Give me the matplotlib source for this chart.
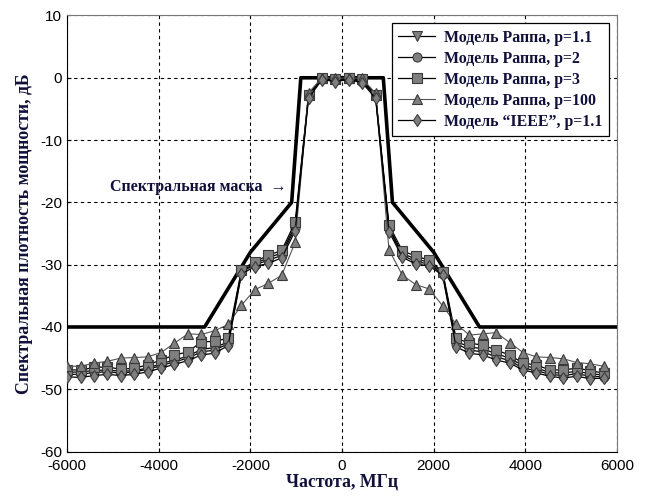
import matplotlib
matplotlib.use("Agg")
import matplotlib.pyplot as plt

# сетка частот, МГц (41 отсчёт)
freq = [-6000, -5707, -5415, -5122, -4829, -4537, -4244, -3951, -3659, -3366,
        -3073, -2780, -2488, -2195, -1902, -1610, -1317, -1024, -732, -439,
        -146, 146, 439, 732, 1024, 1317, 1610, 1902, 2195, 2488,
        2780, 3073, 3366, 3659, 3951, 4244, 4537, 4829, 5122, 5415, 5707]

# спектры на выходе усилителя, дБ
rapp_11 = [-47.3, -47.2, -47.0, -46.9, -47.1, -47.0, -46.6, -45.9, -45.3, -44.7,
           -43.6, -43.3, -42.4, -31.0, -29.8, -28.9, -28.1, -23.7,
           -2.9, -0.2, -0.4, -0.1, -0.4, -2.9,
           -24.0, -28.2, -29.1, -29.6, -31.3, -42.3, -43.2, -43.5, -44.3, -45.0,
           -46.2, -46.6, -47.3, -47.4, -47.1, -47.5, -47.7]
rapp_2 = [-47.6, -47.6, -47.3, -47.2, -47.4, -47.2, -46.8, -46.2, -45.6, -45.0,
          -44.0, -43.7, -42.7, -31.2, -30.0, -29.3, -28.5, -24.1,
          -3.0, -0.1, -0.3, -0.2, -0.6, -3.0,
          -24.3, -28.5, -29.5, -29.9, -31.5, -42.7, -43.7, -44.0, -44.8, -45.4,
          -46.6, -47.0, -47.6, -47.8, -47.5, -47.9, -48.0]
rapp_3 = [-46.9, -46.9, -46.5, -46.4, -46.8, -46.6, -46.1, -45.3, -44.5, -44.0,
          -42.4, -42.3, -41.8, -30.8, -29.5, -28.5, -27.7, -23.2,
          -2.7, 0.0, -0.2, 0.0, -0.2, -2.7,
          -23.6, -27.8, -28.6, -29.3, -31.1, -41.8, -42.6, -42.9, -43.7, -44.5,
          -45.8, -46.1, -46.9, -46.9, -46.6, -47.0, -47.4]
rapp_100 = [-46.3, -46.3, -45.8, -45.5, -45.0, -44.9, -44.8, -44.1, -42.6, -41.1,
            -41.2, -40.6, -39.6, -36.5, -34.0, -33.0, -31.7, -26.4,
            -2.4, 0.0, -0.1, 0.0, -0.1, -2.5,
            -27.6, -31.7, -33.2, -33.9, -36.6, -39.5, -41.3, -41.1, -40.9, -42.5,
            -44.1, -44.8, -44.9, -45.1, -45.7, -45.9, -46.3]
ieee_11 = [-48.0, -48.1, -47.8, -47.6, -47.8, -47.6, -47.2, -46.6, -46.0, -45.4,
           -44.5, -44.2, -43.0, -31.5, -30.3, -29.8, -28.9, -24.6,
           -3.3, -0.3, -0.6, -0.3, -0.8, -3.3,
           -24.7, -28.8, -29.9, -30.2, -31.7, -43.2, -44.2, -44.5, -45.3, -45.8,
           -46.9, -47.4, -47.9, -48.2, -47.9, -48.3, -48.2]

# спектральная маска
mask_f = [-6000, -3000, -2000, -1100, -900, 900, 1100, 2000, 3000, 6000]
mask_db = [-40, -40, -28, -20, 0, 0, -20, -28, -40, -40]

serif = ["Liberation Serif", "DejaVu Serif"]
plt.rcParams["font.family"] = ["Liberation Sans", "DejaVu Sans"]
plt.rcParams["axes.unicode_minus"] = False

fig = plt.figure(figsize=(6.46, 4.99), dpi=100)
ax = fig.add_axes([0.104, 0.095, 0.851, 0.874])

ax.plot(mask_f, mask_db, color="black", lw=2.6, zorder=2)

mk = dict(markerfacecolor="#7f7f7f", markeredgecolor="#3a3a3a",
          markeredgewidth=0.8, markersize=6.5, zorder=3)
ax.plot(freq, rapp_11, "-", color="black", lw=0.9, marker="v",
        label="Модель Раппа, p=1.1", **mk)
ax.plot(freq, rapp_2, "-", color="black", lw=0.9, marker="o",
        label="Модель Раппа, p=2", **mk)
ax.plot(freq, rapp_3, "-", color="black", lw=0.9, marker="s",
        label="Модель Раппа, p=3", **mk)
ax.plot(freq, rapp_100, "-", color="#555555", lw=0.8, marker="^",
        label="Модель Раппа, p=100", **mk)
ax.plot(freq, ieee_11, "-", color="black", lw=0.9, marker="d",
        label="Модель “IEEE”, p=1.1", **mk)

ax.text(-5070, -17.6, "Спектральная маска  →", fontsize=11.5, fontweight="bold",
        family=serif, color="#10103a", va="center")

ax.set_xlim(-6000, 6000)
ax.set_ylim(-60, 10)
ax.set_xticks(range(-6000, 6001, 2000))
ax.set_yticks(range(-60, 11, 10))
ax.tick_params(labelsize=11, direction="in", length=3)
ax.tick_params(axis="x", pad=5)
ax.grid(True, color="black", linestyle=(0, (3, 3)), lw=0.8)
for side in ("top", "right"):
    ax.spines[side].set_color("#777777")

ax.set_xlabel("Частота, МГц", fontsize=12.8, fontweight="bold", family=serif,
              color="#10103a", labelpad=1)
ax.set_ylabel("Спектральная плотность мощности, дБ", fontsize=12.8,
              fontweight="bold", family=serif, color="#10103a", labelpad=5)

leg = ax.legend(loc="upper right", prop={"family": serif, "weight": "bold", "size": 11.4},
                fancybox=False, framealpha=1, edgecolor="black",
                handlelength=2.3, labelspacing=0.32, borderaxespad=0.5,
                borderpad=0.4, handletextpad=0.6)
leg.get_frame().set_linewidth(0.9)
for t in leg.get_texts():
    t.set_color("#10103a")

fig.savefig("out.png", dpi=100)
